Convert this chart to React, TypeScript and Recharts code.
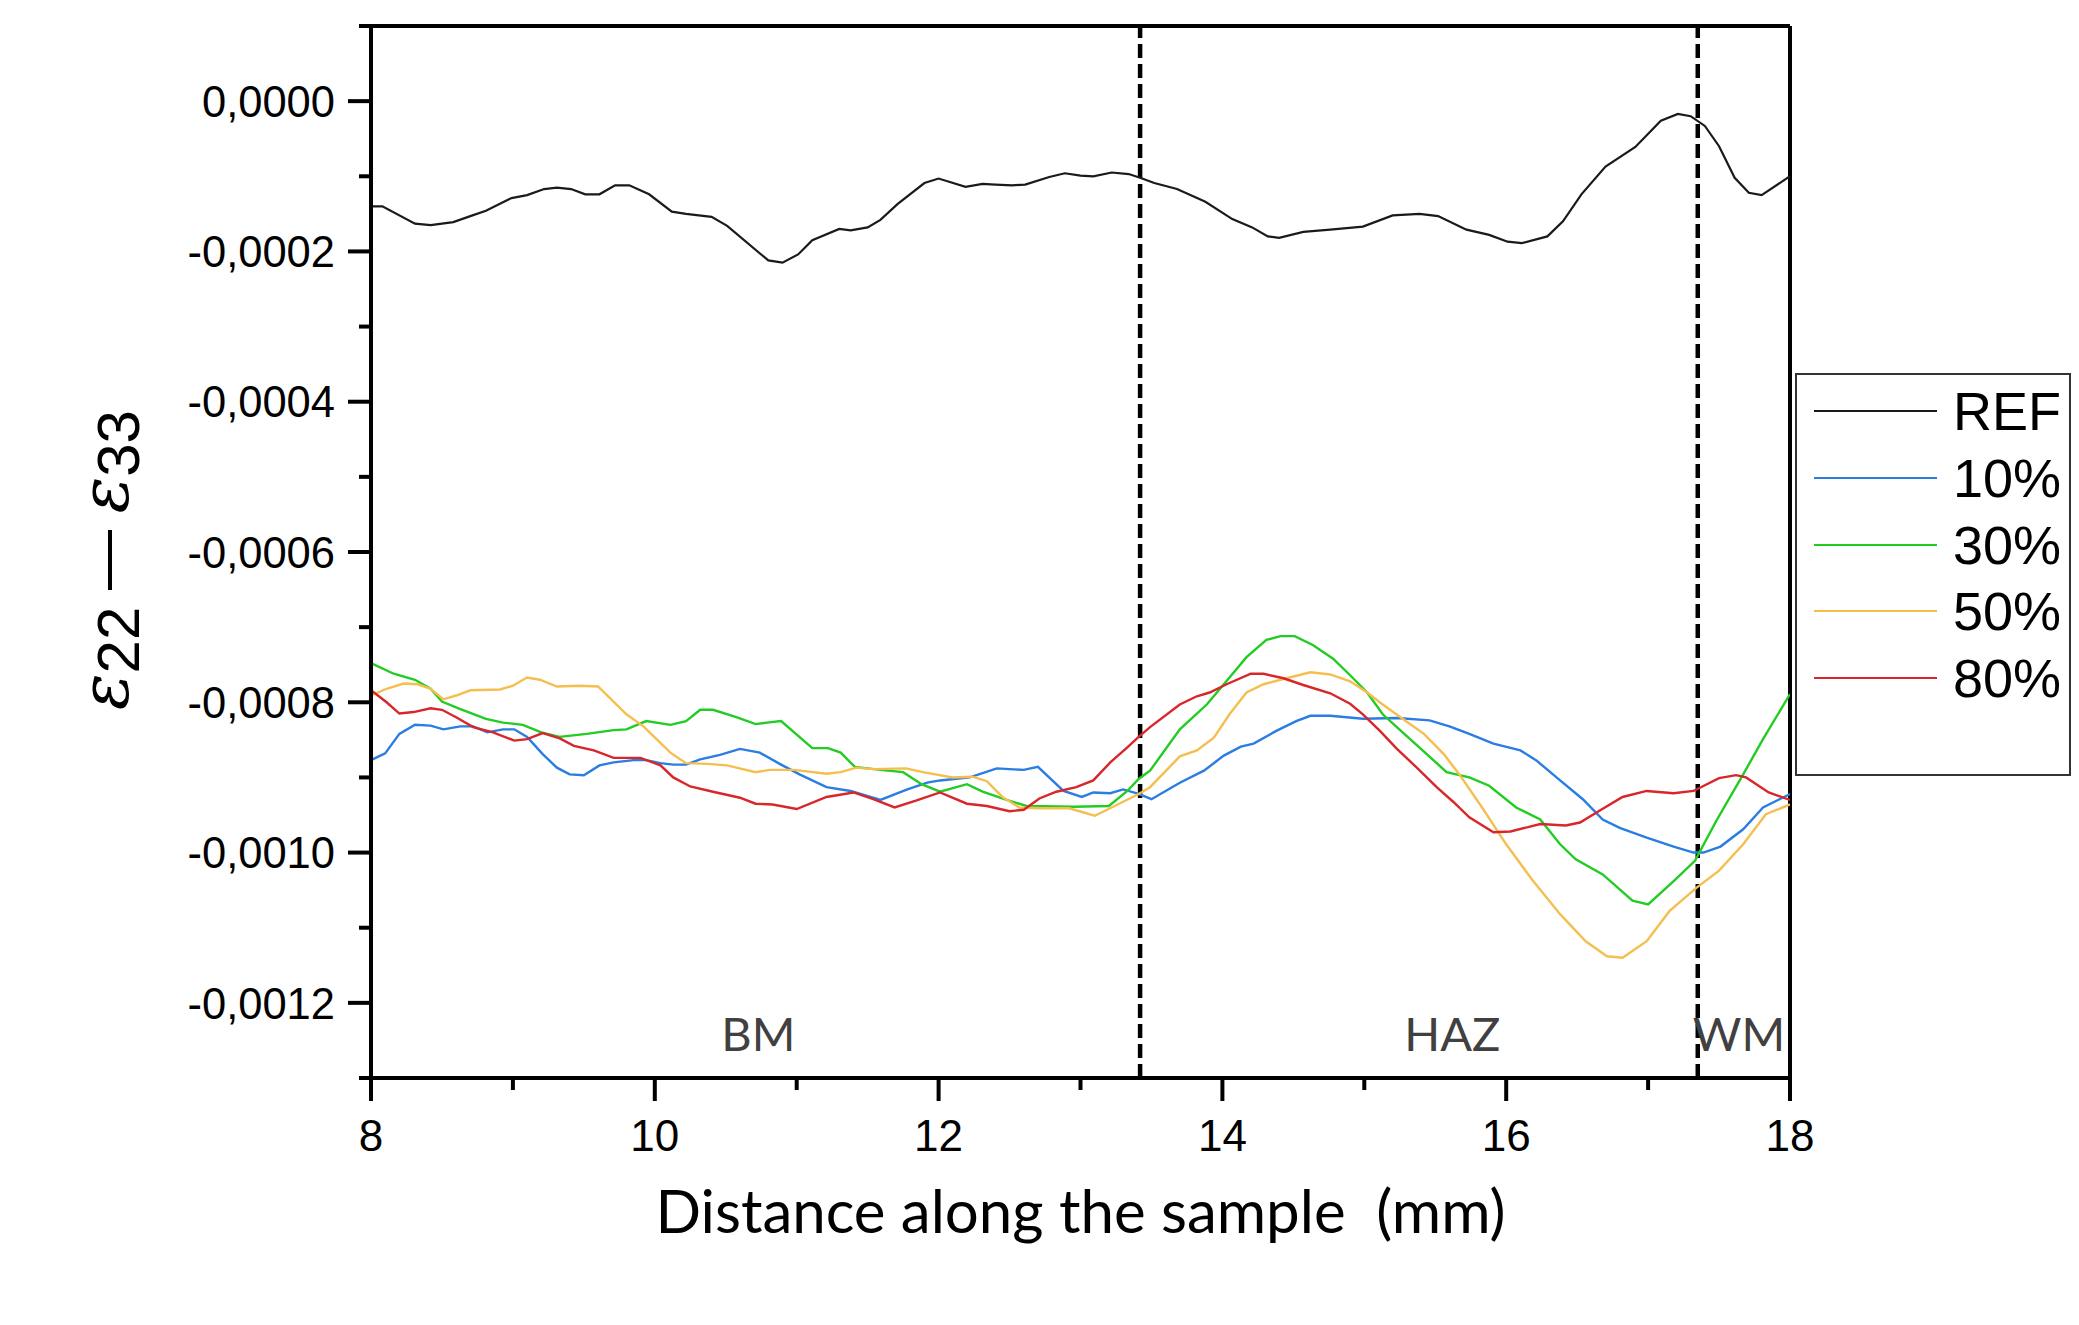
import React from 'react';
import {
  LineChart,
  Line,
  XAxis,
  YAxis,
  ReferenceLine,
  ReferenceDot
} from 'recharts';

// strain values are read in units of 1e-4
const refSeries: [number, number][] = [
  [8.0, -1.4], [8.08, -1.4], [8.31, -1.63], [8.42, -1.65], [8.58, -1.61], [8.7, -1.53],
  [8.81, -1.46], [8.99, -1.29], [9.1, -1.25], [9.22, -1.17], [9.31, -1.15], [9.41, -1.17],
  [9.51, -1.24], [9.61, -1.24], [9.72, -1.12], [9.82, -1.12], [9.96, -1.24], [10.12, -1.47],
  [10.22, -1.5], [10.4, -1.54], [10.51, -1.66], [10.8, -2.12], [10.9, -2.15], [11.01, -2.04],
  [11.11, -1.85], [11.3, -1.7], [11.38, -1.72], [11.5, -1.68], [11.59, -1.58], [11.71, -1.37],
  [11.9, -1.09], [12.0, -1.03], [12.19, -1.14], [12.31, -1.1], [12.4, -1.11], [12.52, -1.12],
  [12.61, -1.11], [12.78, -1.01], [12.89, -0.96], [13.0, -0.99], [13.09, -1.0], [13.22, -0.95],
  [13.34, -0.97], [13.42, -1.02], [13.52, -1.09], [13.68, -1.17], [13.88, -1.34], [14.07, -1.57],
  [14.21, -1.68], [14.32, -1.8], [14.4, -1.82], [14.57, -1.74], [14.76, -1.71], [14.99, -1.67],
  [15.2, -1.52], [15.39, -1.5], [15.52, -1.53], [15.72, -1.71], [15.88, -1.78], [16.01, -1.87],
  [16.11, -1.89], [16.29, -1.8], [16.4, -1.6], [16.53, -1.24], [16.7, -0.87], [16.91, -0.61],
  [17.09, -0.26], [17.21, -0.17], [17.3, -0.2], [17.4, -0.33], [17.5, -0.6], [17.61, -1.02],
  [17.71, -1.22], [17.8, -1.25], [18.0, -1.0]
];

const s10Series: [number, number][] = [
  [8.0, -8.77], [8.1, -8.68], [8.2, -8.42], [8.31, -8.3], [8.42, -8.31], [8.51, -8.36],
  [8.63, -8.32], [8.72, -8.32], [8.82, -8.4], [8.93, -8.36], [9.01, -8.36], [9.1, -8.46],
  [9.21, -8.69], [9.31, -8.87], [9.4, -8.96], [9.5, -8.97], [9.61, -8.84], [9.71, -8.8],
  [9.85, -8.77], [9.94, -8.77], [10.04, -8.81], [10.13, -8.83], [10.22, -8.83], [10.32, -8.76],
  [10.46, -8.7], [10.6, -8.62], [10.74, -8.67], [10.88, -8.82], [11.02, -8.96], [11.21, -9.13],
  [11.38, -9.18], [11.59, -9.3], [11.78, -9.16], [11.92, -9.07], [12.01, -9.04], [12.22, -9.0],
  [12.41, -8.88], [12.6, -8.9], [12.7, -8.86], [12.88, -9.18], [13.01, -9.26], [13.09, -9.2],
  [13.21, -9.21], [13.3, -9.16], [13.41, -9.22], [13.5, -9.29], [13.7, -9.07], [13.87, -8.91],
  [14.01, -8.71], [14.13, -8.59], [14.22, -8.55], [14.38, -8.38], [14.52, -8.25], [14.62, -8.18],
  [14.76, -8.18], [14.99, -8.22], [15.23, -8.21], [15.46, -8.24], [15.6, -8.32], [15.74, -8.42],
  [15.91, -8.55], [16.1, -8.64], [16.21, -8.77], [16.38, -9.04], [16.54, -9.29], [16.68, -9.56],
  [16.8, -9.67], [16.99, -9.8], [17.18, -9.92], [17.32, -10.0], [17.39, -10.0], [17.51, -9.92],
  [17.67, -9.69], [17.81, -9.4], [18.0, -9.22]
];

const s30Series: [number, number][] = [
  [8.0, -7.48], [8.16, -7.62], [8.31, -7.7], [8.42, -7.82], [8.5, -7.99], [8.63, -8.09],
  [8.81, -8.22], [8.93, -8.27], [9.07, -8.3], [9.2, -8.4], [9.33, -8.46], [9.52, -8.42],
  [9.71, -8.37], [9.8, -8.36], [9.94, -8.25], [10.11, -8.3], [10.22, -8.25], [10.32, -8.1],
  [10.41, -8.1], [10.58, -8.2], [10.71, -8.29], [10.79, -8.27], [10.89, -8.25], [11.11, -8.61],
  [11.22, -8.61], [11.31, -8.67], [11.41, -8.86], [11.59, -8.9], [11.75, -8.93], [11.88, -9.09],
  [12.01, -9.19], [12.2, -9.09], [12.31, -9.19], [12.48, -9.3], [12.62, -9.38], [12.95, -9.39],
  [13.2, -9.38], [13.33, -9.18], [13.41, -9.02], [13.49, -8.91], [13.7, -8.36], [13.89, -8.03],
  [14.05, -7.67], [14.17, -7.4], [14.31, -7.17], [14.41, -7.12], [14.51, -7.12], [14.64, -7.24],
  [14.78, -7.42], [14.9, -7.64], [15.02, -7.87], [15.13, -8.16], [15.27, -8.4], [15.44, -8.69],
  [15.58, -8.93], [15.74, -9.0], [15.88, -9.11], [16.07, -9.4], [16.24, -9.56], [16.38, -9.89],
  [16.49, -10.09], [16.68, -10.29], [16.89, -10.64], [17.0, -10.69], [17.18, -10.38], [17.33, -10.11],
  [17.48, -9.58], [17.67, -8.96], [17.81, -8.49], [18.0, -7.89]
];

const s50Series: [number, number][] = [
  [8.0, -7.91], [8.11, -7.82], [8.23, -7.75], [8.33, -7.76], [8.42, -7.82], [8.51, -7.96],
  [8.6, -7.91], [8.7, -7.84], [8.91, -7.83], [9.0, -7.78], [9.1, -7.67], [9.19, -7.7],
  [9.31, -7.79], [9.47, -7.78], [9.6, -7.79], [9.8, -8.16], [9.92, -8.32], [10.11, -8.67],
  [10.22, -8.81], [10.37, -8.82], [10.51, -8.84], [10.71, -8.93], [10.81, -8.9], [10.98, -8.9],
  [11.21, -8.95], [11.31, -8.93], [11.42, -8.87], [11.54, -8.89], [11.77, -8.88], [11.89, -8.93],
  [12.1, -9.0], [12.24, -8.99], [12.34, -9.05], [12.45, -9.26], [12.57, -9.4], [12.71, -9.41],
  [12.92, -9.41], [13.1, -9.51], [13.23, -9.39], [13.41, -9.22], [13.49, -9.13], [13.7, -8.72],
  [13.82, -8.64], [13.94, -8.47], [14.05, -8.16], [14.17, -7.87], [14.29, -7.76], [14.43, -7.69],
  [14.62, -7.6], [14.76, -7.63], [14.9, -7.72], [15.02, -7.87], [15.13, -8.03], [15.27, -8.22],
  [15.42, -8.42], [15.56, -8.69], [15.67, -8.96], [15.83, -9.4], [16.0, -9.89], [16.19, -10.38],
  [16.38, -10.82], [16.56, -11.18], [16.71, -11.38], [16.82, -11.4], [16.99, -11.18], [17.15, -10.78],
  [17.34, -10.47], [17.5, -10.24], [17.67, -9.89], [17.83, -9.49], [18.0, -9.36]
];

const s80Series: [number, number][] = [
  [8.0, -7.84], [8.11, -8.0], [8.2, -8.15], [8.3, -8.13], [8.42, -8.08], [8.5, -8.1],
  [8.6, -8.2], [8.72, -8.33], [8.86, -8.4], [9.01, -8.51], [9.1, -8.49], [9.21, -8.41],
  [9.33, -8.48], [9.43, -8.58], [9.57, -8.64], [9.71, -8.74], [9.9, -8.74], [10.04, -8.84],
  [10.13, -9.0], [10.25, -9.12], [10.41, -9.19], [10.6, -9.27], [10.71, -9.35], [10.83, -9.36],
  [11.0, -9.42], [11.21, -9.26], [11.4, -9.2], [11.54, -9.29], [11.69, -9.4], [11.84, -9.31],
  [12.01, -9.2], [12.2, -9.35], [12.34, -9.38], [12.5, -9.45], [12.6, -9.43], [12.71, -9.28],
  [12.83, -9.19], [12.97, -9.13], [13.09, -9.04], [13.21, -8.8], [13.33, -8.6], [13.41, -8.46],
  [13.49, -8.33], [13.7, -8.03], [13.82, -7.92], [13.91, -7.87], [14.03, -7.76], [14.2, -7.62],
  [14.29, -7.62], [14.43, -7.68], [14.57, -7.77], [14.76, -7.88], [14.9, -8.02], [14.99, -8.16],
  [15.11, -8.38], [15.23, -8.62], [15.37, -8.87], [15.51, -9.13], [15.63, -9.33], [15.74, -9.53],
  [15.91, -9.73], [16.03, -9.72], [16.24, -9.62], [16.42, -9.64], [16.52, -9.6], [16.66, -9.44],
  [16.82, -9.26], [16.99, -9.18], [17.18, -9.21], [17.32, -9.18], [17.5, -9.01], [17.62, -8.97],
  [17.69, -9.0], [17.85, -9.2], [18.0, -9.3]
];

const seriesNames = ['REF', '10%', '30%', '50%', '80%'];
const seriesColors = ['#1a1a1a', '#2a7de1', '#22cc22', '#f5bf4f', '#d8262a'];
const seriesData = [refSeries, s10Series, s30Series, s50Series, s80Series];

// x ticks in mm (major every 2, minor every 1), y ticks in 1e-4 steps
const xTicks = [8, 9, 10, 11, 12, 13, 14, 15, 16, 17, 18];
const yTickSteps = [1, 0, -1, -2, -3, -4, -5, -6, -7, -8, -9, -10, -11, -12, -13];
const zoneBoundaries = [13.42, 17.35];
const zoneLabels = ['BM', 'HAZ', 'WM'];
const zoneLabelX = [10.73, 15.62, 17.64];
const zoneLabelY = -12.42;

const SCALE = 1e-4;
const yTicks = yTickSteps.map((k) => k / 10000);
const fmt = (v: number) => v.toFixed(4).replace('.', ',');

const XTick = (props: any) => {
  const { x, y, payload } = props;
  const major = payload.value % 2 === 0;
  return (
    <g>
      <line x1={x} x2={x} y1={y} y2={y + (major ? 23 : 12)} stroke="#000" strokeWidth={4} />
      {major && (
        <text x={x} y={y + 73} textAnchor="middle" fontSize={44} fontFamily="'Liberation Sans', Arial, sans-serif" fill="#000">
          {payload.value}
        </text>
      )}
    </g>
  );
};

const YTick = (props: any) => {
  const { x, y, payload } = props;
  const k = Math.round(payload.value * 10000);
  const major = k % 2 === 0;
  return (
    <g>
      <line x1={x - (major ? 23 : 12)} x2={x} y1={y} y2={y} stroke="#000" strokeWidth={4} />
      {major && (
        <text x={x - 36} y={y} dy="0.36em" textAnchor="end" fontSize={43.5} fontFamily="'Liberation Sans', Arial, sans-serif" fill="#000">
          {fmt(payload.value)}
        </text>
      )}
    </g>
  );
};

const YLabel = () => (
  <text
    x={0}
    y={0}
    transform="translate(104, 560) rotate(-90)"
    textAnchor="middle"
    dominantBaseline="central"
    fontSize={60}
    fontFamily="'Liberation Sans', Arial, sans-serif"
    fill="#000"
  >
    <tspan fontStyle="italic" fontSize={68} fontFamily="'DejaVu Serif', serif">ε</tspan>
    <tspan dy={14}>22</tspan>
    <tspan dy={-14}>{'\u00A0\u2014\u00A0'}</tspan>
    <tspan fontStyle="italic" fontSize={68} fontFamily="'DejaVu Serif', serif">ε</tspan>
    <tspan dy={14}>33</tspan>
  </text>
);

const XLabel = (props: any) => {
  const vb = props.viewBox || { x: 371, y: 1078, width: 1419 };
  return (
    <text x={vb.x + vb.width / 2} y={vb.y + 155} textAnchor="middle" fontSize={60} fontFamily="Lato, 'Open Sans', sans-serif" fill="#000">
      {'Distance along the sample\u00A0\u00A0(mm)'}
    </text>
  );
};

const Legend = () => (
  <div
    style={{
      position: 'absolute',
      left: 1795,
      top: 373,
      width: 276,
      height: 403,
      border: '2px solid #333',
      boxSizing: 'border-box',
      background: '#fff'
    }}
  >
    {seriesNames.map((name, i) => (
      <div
        key={name}
        style={{
          position: 'absolute',
          left: 0,
          top: 3 + i * 66.8,
          height: 66,
          display: 'flex',
          alignItems: 'center'
        }}
      >
        <div style={{ marginLeft: 17, width: 123, height: 2, background: seriesColors[i] }} />
        <span
          style={{
            marginLeft: 16,
            fontSize: 54,
            fontFamily: "'Liberation Sans', Arial, sans-serif",
            color: '#000',
            lineHeight: '66px'
          }}
        >
          {name}
        </span>
      </div>
    ))}
  </div>
);

const App: React.FC = () => {
  return (
    <div style={{ position: 'absolute', left: 0, top: 0, width: 2079, height: 1325, background: '#fff' }}>
      <LineChart
        width={2079}
        height={1325}
        margin={{ top: 26, right: 289, bottom: 97, left: 0 }}
        style={{ fontFamily: "'Liberation Sans', Arial, sans-serif" }}
      >
        <XAxis
          type="number"
          dataKey="x"
          domain={[8, 18]}
          ticks={xTicks}
          interval={0}
          tickSize={0}
          tickMargin={0}
          tick={<XTick />}
          tickLine={false}
          axisLine={{ stroke: '#000', strokeWidth: 4, strokeLinecap: 'square' }}
          height={150}
          allowDataOverflow
          label={<XLabel />}
        />
        <YAxis
          type="number"
          domain={[-0.0013, 0.0001]}
          ticks={yTicks}
          interval={0}
          tickSize={0}
          tickMargin={0}
          tick={<YTick />}
          tickLine={false}
          axisLine={{ stroke: '#000', strokeWidth: 4, strokeLinecap: 'square' }}
          width={371}
          allowDataOverflow
          label={<YLabel />}
        />
        <ReferenceLine y={0.0001} stroke="#000" strokeWidth={4} />
        <ReferenceLine x={18} stroke="#000" strokeWidth={4} />
        {zoneBoundaries.map((b) => (
          <ReferenceLine key={b} x={b} stroke="#000" strokeWidth={4.5} strokeDasharray="14 6" />
        ))}
        {zoneLabels.map((lbl, i) => (
          <ReferenceDot
            key={lbl}
            x={zoneLabelX[i]}
            y={zoneLabelY * SCALE}
            r={0}
            fill="none"
            stroke="none"
            label={{
              value: lbl,
              position: 'center',
              fill: '#404040',
              fontSize: 47,
              fontFamily: "Lato, 'Open Sans', sans-serif"
            }}
          />
        ))}
        {seriesData.map((s, i) => (
          <Line
            key={seriesNames[i]}
            data={s.map(([x, y]) => ({ x, y: y * SCALE }))}
            dataKey="y"
            name={seriesNames[i]}
            type="linear"
            stroke={seriesColors[i]}
            strokeWidth={i === 0 ? 2.2 : 2.4}
            dot={false}
            activeDot={false}
            isAnimationActive={false}
          />
        ))}
      </LineChart>
      <Legend />
    </div>
  );
};

export default App;
